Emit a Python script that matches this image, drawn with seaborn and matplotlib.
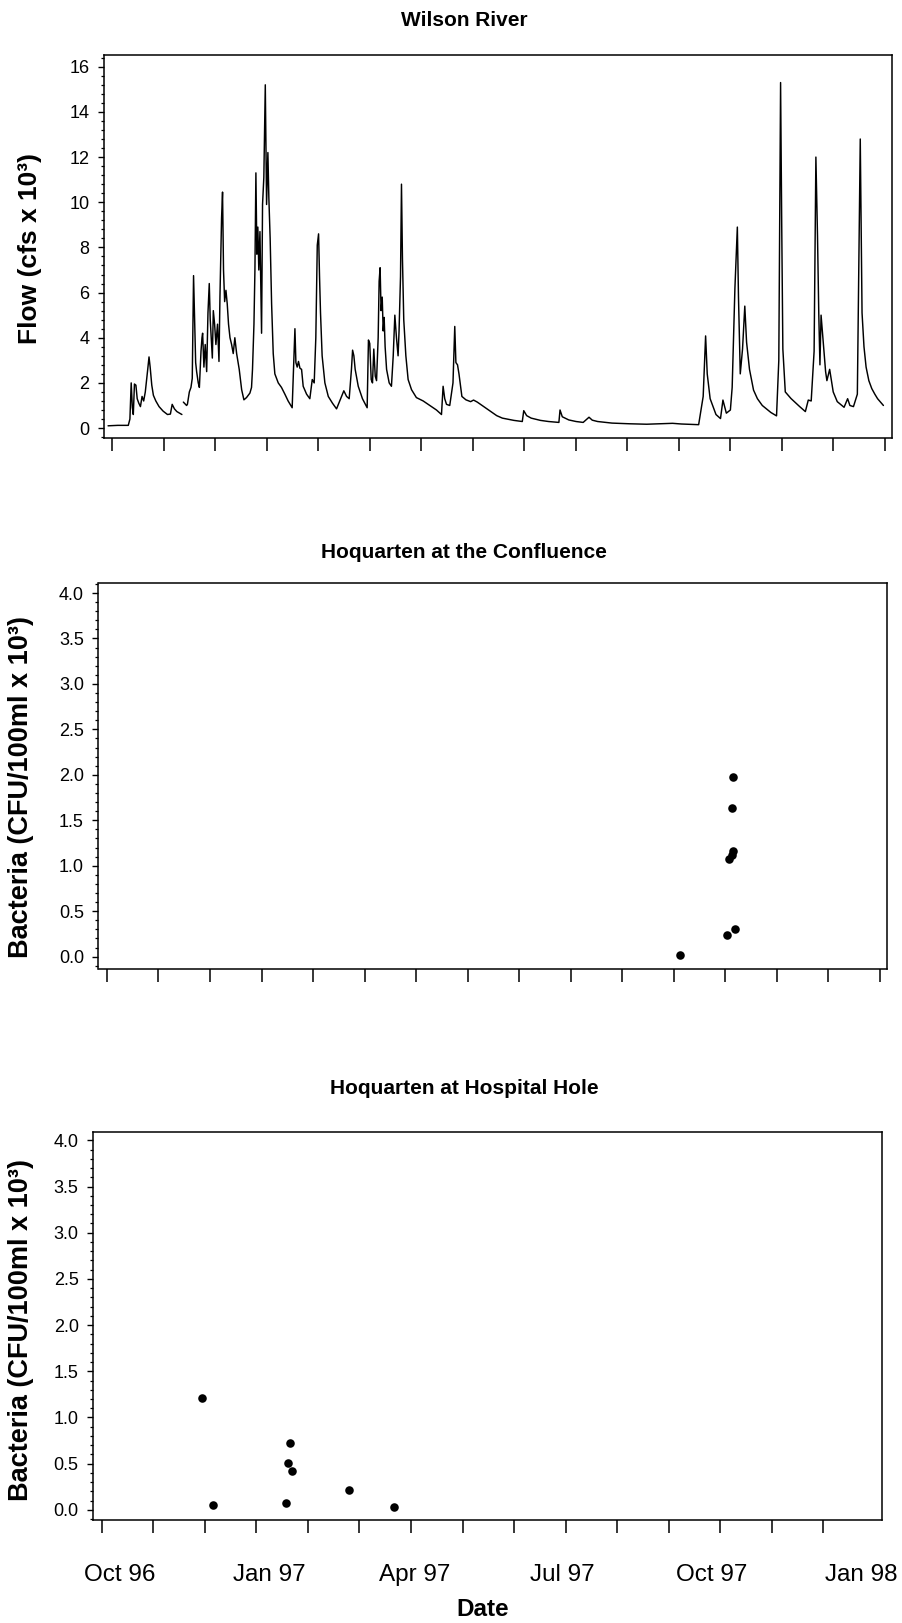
import numpy as np
import pandas as pd
import matplotlib
matplotlib.use("Agg")
import matplotlib.pyplot as plt
import matplotlib.dates as mdates
from matplotlib.ticker import MultipleLocator, FixedLocator, FixedFormatter, NullLocator, NullFormatter
import seaborn as sns

# ---------------- data (day = days after 1 Sep 1996) ----------------
START = pd.Timestamp("1996-09-01")

# Wilson River flow (cfs x 10^3) - first record segment (before the data gap)
flow_day_1 = [16, 22, 28.5, 29.5, 30.3, 31.0, 31.6, 32.3, 33.2, 34.0, 35.0, 36.0, 37.0,
              38.0, 39.0, 40.5, 41.3, 42.0, 43.0, 44.0, 45.5, 47.5, 50.0, 52.7, 54.5,
              55.6, 57.0, 58.5, 61.6]
flow_val_1 = [0.10, 0.12, 0.12, 0.4, 2.0, 0.9, 0.6, 1.95, 1.9, 1.3, 1.1, 0.95, 1.4,
              1.2, 1.6, 2.6, 3.15, 2.7, 1.9, 1.45, 1.2, 0.95, 0.75, 0.6, 0.62,
              1.05, 0.85, 0.73, 0.6]

# second record segment
flow_day_2 = [62.5, 64.5, 65.0, 66.2, 67.2, 68.0, 68.8, 69.5, 70.1, 70.7, 71.7, 72.4,
              73.4, 74.0, 74.4, 75.2, 76.0, 76.9, 77.7, 78.5, 79.1, 79.7, 80.4, 81.0,
              81.8, 82.6, 83.6, 84.5, 85.1, 86.1, 86.7, 87.3, 88.0, 88.8, 89.6, 90.4,
              91.3, 92.3, 93.3, 94.3, 95.4, 97.0, 98.5, 99.9, 101.5, 103.6, 104.6, 105.2,
              106.1, 106.7, 107.3, 107.9, 108.5, 109.1, 109.8, 110.8, 111.4, 112.2, 113.1,
              113.9, 114.7, 115.3, 116.1, 117.0, 118.0, 119.0, 121.1, 123.1, 125.2, 127.2,
              129.7, 131.4, 132.0, 132.8, 133.6, 134.5, 135.5, 136.5, 138.6, 140.6, 142.1,
              143.3, 144.3, 145.2, 146.0, 146.6, 147.2, 148.2, 149.9, 152.0, 154.6, 157.1,
              160.2, 161.6, 163.3, 164.9, 166.3, 167.0, 167.8, 168.6, 170.5, 173.1, 176.0,
              176.8, 177.6, 178.5, 179.3, 180.1, 181.0, 181.8, 182.8, 183.4, 184.0, 184.6,
              185.3, 185.9, 186.5, 187.1, 188.0, 189.6, 191.0, 192.1, 193.1, 194.1, 195.1,
              195.7, 196.6, 197.2, 197.8, 198.6, 199.9, 201.3, 203.4, 206.4, 210.6, 214.7,
              218.8, 221.9, 222.9, 223.9, 225.0, 227.0, 229.0, 230.1, 230.8, 231.8, 232.7,
              234.5, 237.0, 239.9, 241.7, 244.0, 247.0, 252.4, 256.0, 259.5, 266.6, 271.8,
              272.7, 274.5, 277.3, 283.0, 288.0, 294.4, 295.1, 296.5, 300.5, 305.0, 309.4,
              313.0, 315.0, 318.3, 327.2, 337.9, 348.6, 356.0, 364.6, 370.0, 380.7, 383.5,
              385.0, 386.0, 387.8, 391.4, 394.2, 395.7, 397.8, 400.3, 401.4, 403.1, 404.6,
              405.3, 406.4, 407.8, 409.2, 410.3, 412.1, 414.6, 417.0, 420.0, 425.3, 428.8,
              430.2, 431.3, 432.0, 432.7, 434.2, 437.7, 443.1, 446.6, 448.4, 450.2, 452.0,
              453.1, 454.1, 454.9, 455.6, 456.3, 457.4, 459.1, 459.9, 461.6, 463.8, 466.3,
              470.5, 472.7, 474.1, 476.3, 478.7, 480.5, 481.6, 482.8, 484.1, 485.8, 487.6,
              489.5, 491.2, 494.8]
flow_val_2 = [1.15, 1.0, 1.05, 1.6, 1.8, 2.2, 6.75, 4.6, 2.9, 2.5, 2.0, 1.8,
              3.4, 4.0, 4.2, 2.7, 3.7, 2.5, 5.1, 6.4, 4.8, 4.0, 3.1, 5.2,
              4.6, 3.7, 4.6, 2.95, 5.8, 9.3, 10.45, 7.0, 5.6, 6.1, 5.5, 4.6,
              4.0, 3.7, 3.3, 4.0, 3.3, 2.6, 1.7, 1.25, 1.35, 1.55, 1.8, 2.6,
              4.6, 7.0, 11.3, 7.7, 8.9, 7.0, 8.7, 4.2, 9.9, 11.1, 15.2,
              9.9, 12.2, 10.2, 8.4, 5.5, 3.3, 2.4, 2.0, 1.8, 1.5, 1.2,
              0.9, 4.4, 2.9, 2.7, 2.95, 2.65, 2.6, 1.85, 1.5, 1.3, 2.15,
              2.0, 4.0, 8.1, 8.6, 6.7, 5.1, 3.2, 2.0, 1.4, 1.1, 0.85,
              1.4, 1.65, 1.4, 1.3, 2.6, 3.45, 3.2, 2.6, 1.85, 1.3, 0.9,
              3.9, 3.75, 2.15, 2.0, 3.5, 2.3, 2.1, 4.0, 6.5, 7.1, 5.2,
              5.8, 4.3, 4.9, 3.6, 2.6, 2.0, 1.85, 3.2, 5.0, 4.0, 3.2,
              4.3, 6.7, 10.8, 7.5, 4.8, 3.2, 2.15, 1.7, 1.35, 1.2, 1.0,
              0.8, 0.6, 1.85, 1.3, 1.05, 1.0, 2.0, 4.5, 2.9, 2.8, 2.4,
              1.4, 1.25, 1.17, 1.24, 1.15, 1.0, 0.73, 0.55, 0.44, 0.34, 0.29,
              0.77, 0.55, 0.44, 0.34, 0.29, 0.25, 0.8, 0.5, 0.36, 0.29, 0.25,
              0.48, 0.35, 0.29, 0.22, 0.19, 0.17, 0.19, 0.21, 0.18, 0.15, 1.4,
              4.08, 2.4, 1.3, 0.6, 0.42, 1.24, 0.66, 0.8, 1.8, 6.2, 8.9,
              5.8, 2.4, 3.5, 5.4, 3.8, 2.6, 1.68, 1.3, 1.0, 0.69, 0.54,
              3.0, 15.3, 9.0, 3.5, 1.6, 1.31, 0.95, 0.73, 1.24, 1.2, 3.4,
              12.0, 8.5, 5.0, 2.8, 5.0, 4.0, 2.5, 2.1, 2.6, 1.6, 1.17,
              0.92, 1.3, 1.0, 0.95, 1.5, 12.8, 5.1, 3.6, 2.7, 2.1, 1.75,
              1.5, 1.3, 1.0]

# Hoquarten at the Confluence, bacteria (CFU/100ml x 10^3)
conf_day = [372.3, 401.1, 406.2, 402.7, 404.7, 405.2, 404.2, 404.8]
conf_val = [0.02, 0.24, 0.30, 1.07, 1.12, 1.16, 1.63, 1.98]

# Hoquarten at Hospital Hole
hosp_day = [80.8, 87.2, 132.4, 133.6, 134.9, 136.1, 171.5, 199.0]
hosp_val = [1.21, 0.05, 0.07, 0.51, 0.72, 0.42, 0.21, 0.03]

month_labels = ["Oct 96", "Jan 97", "Apr 97", "Jul 97", "Oct 97", "Jan 98"]
label_dates = ["1996-10-01", "1997-01-01", "1997-04-01", "1997-07-01", "1997-10-01", "1998-01-01"]

titles = ["Wilson River", "Hoquarten at the Confluence", "Hoquarten at Hospital Hole"]

# ---------------- build frames ----------------
flow = pd.DataFrame({
    "day": flow_day_1 + flow_day_2,
    "flow": flow_val_1 + flow_val_2,
    "segment": [1] * len(flow_day_1) + [2] * len(flow_day_2),
})
flow["date"] = START + pd.to_timedelta(flow["day"], unit="D")
conf = pd.DataFrame({"date": START + pd.to_timedelta(conf_day, unit="D"), "bact": conf_val})
hosp = pd.DataFrame({"date": START + pd.to_timedelta(hosp_day, unit="D"), "bact": hosp_val})

# ---------------- style ----------------
sns.set_theme(style="ticks")
plt.rcParams["font.family"] = ["Liberation Sans", "DejaVu Sans"]
plt.rcParams["axes.linewidth"] = 1.1
plt.rcParams["axes.edgecolor"] = "black"
plt.rcParams["xtick.color"] = "black"
plt.rcParams["ytick.color"] = "black"
plt.rcParams["text.color"] = "black"

W, H = 903, 1623
fig = plt.figure(figsize=(W / 100, H / 100), dpi=100)
fig.patch.set_facecolor("white")


def rect(l, r, t, b):
    return [l / W, 1 - b / H, (r - l) / W, (b - t) / H]


ax1 = fig.add_axes(rect(104, 892, 55, 438))
ax2 = fig.add_axes(rect(98.5, 887, 583, 968.5))
ax3 = fig.add_axes(rect(93.3, 882, 1132, 1520))

sns.lineplot(data=flow, x="date", y="flow", units="segment", estimator=None,
             color="black", linewidth=1.05, ax=ax1, legend=False)
sns.scatterplot(data=conf, x="date", y="bact", color="black", s=38, linewidth=0, ax=ax2)
sns.scatterplot(data=hosp, x="date", y="bact", color="black", s=38, linewidth=0, ax=ax3)

x0 = mdates.date2num((START + pd.Timedelta(days=13.5)).to_pydatetime())
x1 = mdates.date2num((START + pd.Timedelta(days=500.1)).to_pydatetime())
tick_dates = [(START + pd.Timedelta(days=float(d))).to_pydatetime() for d in 18.7 + 31.8 * np.arange(16)]
tick_nums = mdates.date2num(tick_dates)
lab_nums = mdates.date2num([pd.Timestamp(d).to_pydatetime() for d in label_dates])

for ax, n in ((ax1, 16), (ax2, 16), (ax3, 15)):
    ax.set_xlim(x0, x1)
    for s in ax.spines.values():
        s.set_visible(True)
        s.set_linewidth(1.1)
        s.set_color("black")
    ax.xaxis.set_minor_locator(FixedLocator(tick_nums[:n]))
    ax.xaxis.set_minor_formatter(NullFormatter())
    ax.tick_params(axis="x", which="minor", length=9.5, width=1.1, direction="out",
                   top=False, bottom=True)
    if ax is ax3:
        ax.xaxis.set_major_locator(FixedLocator(lab_nums))
        ax.xaxis.set_major_formatter(FixedFormatter(month_labels))
        ax.tick_params(axis="x", which="major", length=0, pad=32, labelsize=17.5)
    else:
        ax.xaxis.set_major_locator(NullLocator())
    ax.tick_params(axis="y", which="major", length=4.5, width=1.0, direction="out",
                   labelsize=13, pad=6, right=False)
    ax.tick_params(axis="y", which="minor", length=2.3, width=0.9, direction="out", right=False)
    ax.set_xlabel("")
    ax.set_ylabel("")
    ax.grid(False)

ax1.set_ylim(-0.44, 16.52)
ax1.yaxis.set_major_locator(MultipleLocator(2))
ax1.yaxis.set_minor_locator(MultipleLocator(0.4))

ax2.set_ylim(-0.13, 4.11)
ax3.set_ylim(-0.11, 4.09)
for ax in (ax2, ax3):
    ax.yaxis.set_major_locator(MultipleLocator(0.5))
    ax.yaxis.set_minor_locator(MultipleLocator(0.1))
    ax.yaxis.set_major_formatter(matplotlib.ticker.FormatStrFormatter("%.1f"))

# titles and axis labels
for title, yc in zip(titles, (20, 552, 1089)):
    fig.text(464 / W, 1 - yc / H, title, ha="center", va="center",
             fontsize=15, fontweight="bold")

fig.text(30 / W, 1 - 248 / H, "Flow (cfs x 10³)", rotation=90, ha="center", va="center",
         fontsize=19, fontweight="bold")
fig.text(21 / W, 1 - 787 / H, "Bacteria (CFU/100ml x 10³)", rotation=90, ha="center",
         va="center", fontsize=19.5, fontweight="bold")
fig.text(21 / W, 1 - 1330 / H, "Bacteria (CFU/100ml x 10³)", rotation=90, ha="center",
         va="center", fontsize=19.5, fontweight="bold")
fig.text(483 / W, 1 - 1609 / H, "Date", ha="center", va="center",
         fontsize=17.5, fontweight="bold")

fig.savefig("out.png", dpi=100, facecolor="white")
